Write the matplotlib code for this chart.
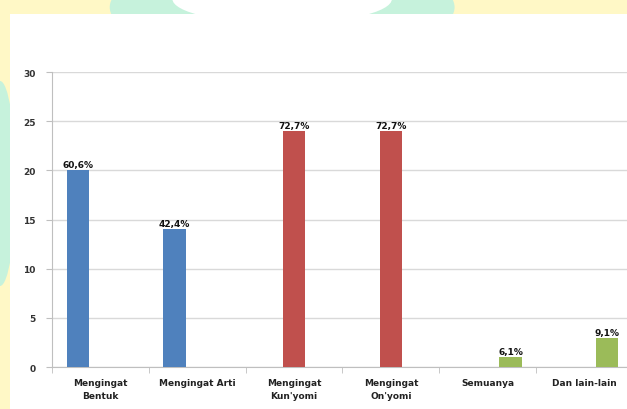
import matplotlib.pyplot as plt
from matplotlib.patches import Ellipse, Rectangle
import numpy as np

categories = ["Mengingat\nBentuk", "Mengingat Arti", "Mengingat\nKun'yomi",
              "Mengingat\nOn'yomi", "Semuanya", "Dan lain-lain"]
blue_vals = [20, 14, np.nan, np.nan, np.nan, np.nan]
red_vals = [np.nan, np.nan, 24, 24, np.nan, np.nan]
green_vals = [np.nan, np.nan, np.nan, np.nan, 1, 3]
pct_labels = ["60,6%", "42,4%", "72,7%", "72,7%", "6,1%", "9,1%"]
y_ticks = [0, 5, 10, 15, 20, 25, 30]

fig = plt.figure(figsize=(6.27, 4.10), dpi=100, facecolor='#fff8c6')

# watermark-ish background pieces behind the white panel
fig.patches.append(Ellipse((0.45, 0.98), 0.55, 0.25, transform=fig.transFigure,
                           facecolor='#c6f2dc', edgecolor='none', zorder=-3))
fig.patches.append(Ellipse((0.45, 1.0), 0.35, 0.12, transform=fig.transFigure,
                           facecolor='white', edgecolor='none', zorder=-2))
fig.patches.append(Ellipse((0.0, 0.55), 0.05, 0.5, transform=fig.transFigure,
                           facecolor='#c6f2dc', edgecolor='none', zorder=-3))
fig.patches.append(Rectangle((0.016, 0.0), 1.0, 0.963, transform=fig.transFigure,
                             facecolor='white', edgecolor='none', zorder=-1))

ax = fig.add_axes([0.0829, 0.1024, 0.9266, 0.7195])
ax.set_zorder(2)
ax.set_facecolor('none')

x = np.arange(len(categories))
w = 0.23
off = 0.235
ax.bar(x - off, blue_vals, w, color='#4f81bd', zorder=3)
ax.bar(x, red_vals, w, color='#c0504d', zorder=3)
ax.bar(x + off, green_vals, w, color='#9bbb59', zorder=3)

# data labels over each bar
for i, (b, r, g) in enumerate(zip(blue_vals, red_vals, green_vals)):
    for v, dx in ((b, -off), (r, 0), (g, off)):
        if not np.isnan(v):
            ax.text(i + dx, v + 0.1, pct_labels[i], ha='center', va='bottom',
                    fontsize=6.5, fontweight='bold', color='#111111')

ax.set_xlim(-0.5, 5.5)
ax.set_ylim(0, 30)
ax.set_yticks(y_ticks)
ax.set_xticks(x)
ax.set_xticklabels(categories, fontsize=6.5, fontweight='bold', color='#222222',
                   linespacing=1.5)
ax.set_xticks(np.arange(-0.5, 6, 1), minor=True)
ax.tick_params(axis='x', which='major', length=0, pad=8)
ax.tick_params(axis='x', which='minor', length=4, color='#bfbfbf')
ax.tick_params(axis='y', length=4, color='#bfbfbf', labelsize=6.5, pad=8,
               labelcolor='#333333')
for t in ax.get_yticklabels():
    t.set_fontweight('bold')

ax.grid(axis='y', color='#d9d9d9', linewidth=1, zorder=0)
for s in ('top', 'right'):
    ax.spines[s].set_visible(False)
ax.spines['left'].set_color('#bfbfbf')
ax.spines['bottom'].set_color('#bfbfbf')

fig.savefig('out.png', dpi=100, facecolor=fig.get_facecolor())
